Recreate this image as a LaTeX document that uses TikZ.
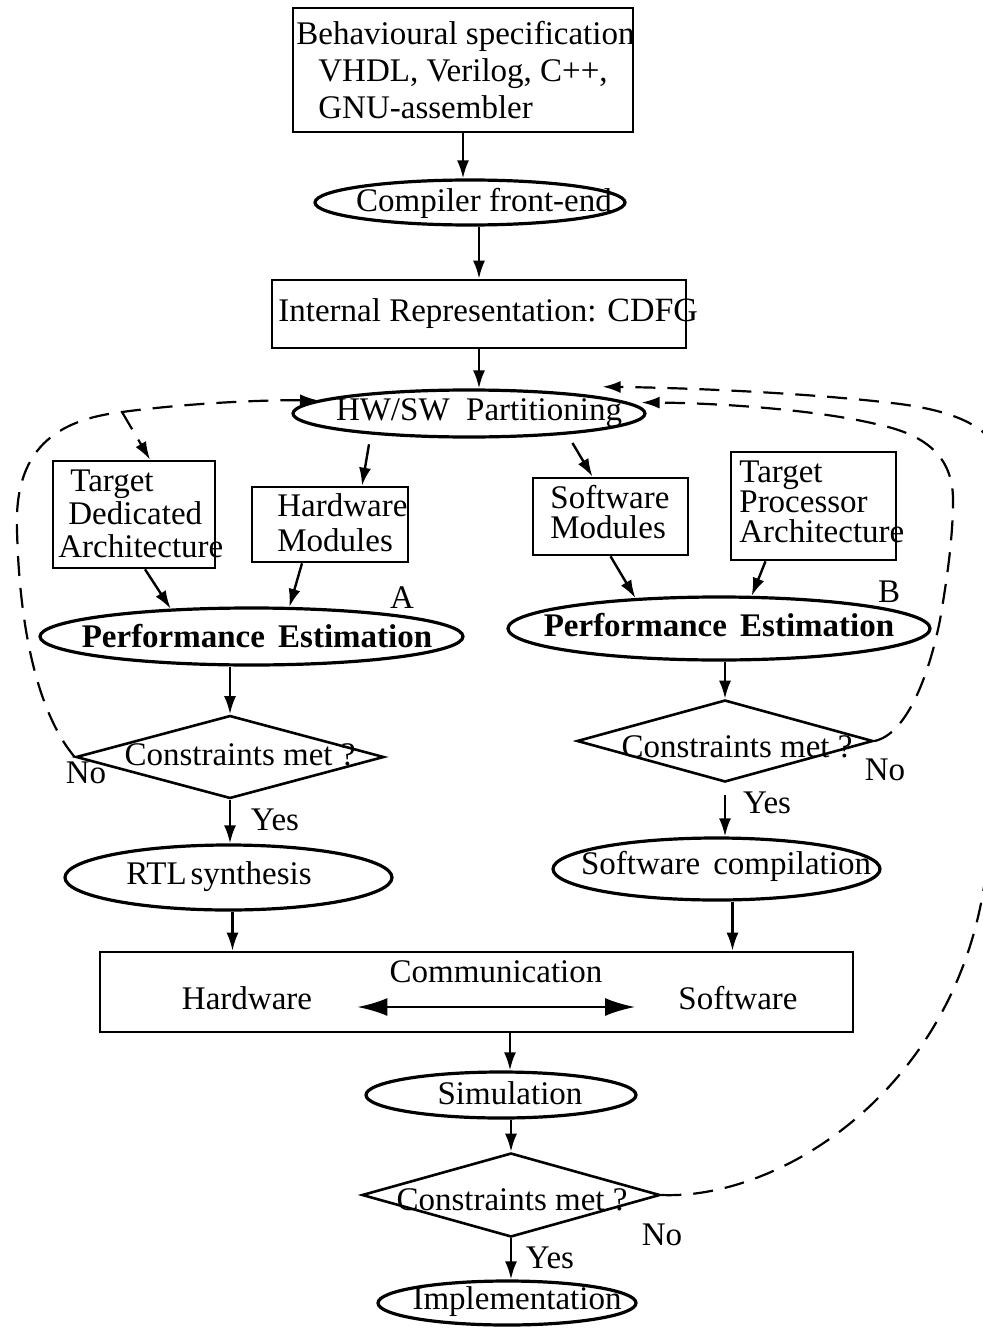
\documentclass[tikz,border=0pt]{standalone}
\usepackage{fontspec}
\setmainfont{Liberation Serif}
\usetikzlibrary{shapes.geometric,arrows.meta,calc}
\begin{document}
\begin{tikzpicture}[x=0.5pt,y=-0.5pt,
  every node/.style={font=\fontsize{16.5}{18}\selectfont},
  box/.style={draw,line width=1.3pt,rectangle,inner sep=0pt},
  oval/.style={draw,line width=1.6pt,ellipse,inner sep=0pt},
  test/.style={draw,line width=1.3pt,diamond,inner sep=0pt},
  txt/.style={inner sep=0pt},
  boldtxt/.style={inner sep=0pt,font=\fontsize{16.5}{18}\selectfont\bfseries},
  flow/.style={line width=1.2pt,-{Latex[length=9pt,width=6pt]}},
  back/.style={line width=1.1pt,dash pattern=on 10pt off 6pt,-{Latex[length=9pt,width=6pt]}},
  bothway/.style={line width=1.2pt,{Latex[length=15pt,width=9pt]}-{Latex[length=15pt,width=9pt]}},
]
\clip (0,0) rectangle (983,1332);

% ---------- front end ----------
\node[box,minimum width=170pt,minimum height=62pt] (spec) at (463,70) {};
\node[txt,anchor=west,align=left,font=\fontsize{16.5}{18.5}\selectfont] (specT) at (296,70)
  {Behavioural specification\\\hspace*{11pt}VHDL, Verilog, C++,\\\hspace*{11pt}GNU-assembler};

\node[oval,minimum width=155pt,minimum height=22.5pt] (cfe) at (470,202.5) {};
\node[txt] (cfeT) at (484,203) {Compiler front-end};

\node[box,minimum width=207pt,minimum height=34pt] (ir) at (479,314) {};
\node[txt,anchor=west] (irT) at (278,314) {Internal Representation: {\fontsize{17}{19}\selectfont CDFG}};

\node[oval,minimum width=176pt,minimum height=23.5pt] (hwsw) at (469,413.5) {};
\node[txt] (hwswT) at (479,413) {HW/SW\hspace{0.5em}Partitioning};

% ---------- hardware / software branches ----------
\node[box,minimum width=81pt,minimum height=53.5pt] (tda) at (134,514.5) {};
\node[txt,anchor=west,align=left,font=\fontsize{16.5}{16.5}\selectfont] (tdaT) at (58,514)
  {\hspace*{6pt}Target\\\hspace*{5pt}Dedicated\\Architecture};

\node[box,minimum width=78pt,minimum height=37.5pt] (hwm) at (330,524.5) {};
\node[txt,anchor=west,align=left,font=\fontsize{16.5}{17.5}\selectfont] (hwmT) at (277,523)
  {Hardware\\Modules};

\node[box,minimum width=77.5pt,minimum height=38.5pt] (swm) at (610.5,516.5) {};
\node[txt,anchor=west,align=left,font=\fontsize{16.5}{15}\selectfont] (swmT) at (550,512)
  {Software\\Modules};

\node[box,minimum width=82.5pt,minimum height=54pt] (tpa) at (813.5,506) {};
\node[txt,anchor=west,align=left,font=\fontsize{16.5}{15}\selectfont] (tpaT) at (739,502)
  {Target\\Processor\\Architecture};

\node[oval,minimum width=211.5pt,minimum height=28.5pt] (pea) at (251.5,636.5) {};
\node[boldtxt] (peaT) at (257,636) {Performance\hspace{0.4em}Estimation};
\node[txt] (labA) at (402,598) {A};

\node[oval,minimum width=211pt,minimum height=31.5pt] (peb) at (719,628.5) {};
\node[boldtxt] (pebT) at (719,625) {Performance\hspace{0.4em}Estimation};
\node[txt] (labB) at (889,592) {B};

\node[test,minimum width=154pt,minimum height=41.5pt] (dl) at (230,757) {};
\node[txt] (dlT) at (240,755) {Constraints met ?};
\node[txt] (noL) at (86,773) {No};
\node[txt] (yesL) at (275,820) {Yes};

\node[test,minimum width=148pt,minimum height=41pt] (dr) at (725,741) {};
\node[txt] (drT) at (737,747) {Constraints met ?};
\node[txt] (noR) at (885,770) {No};
\node[txt] (yesR) at (767,803) {Yes};

\node[oval,minimum width=163.5pt,minimum height=32.5pt] (rtl) at (228.5,877.5) {};
\node[txt] (rtlT) at (219,877) {RTL\hspace{0.12em}synthesis};

\node[oval,minimum width=163.5pt,minimum height=31pt] (swc) at (716.5,869) {};
\node[txt] (swcT) at (726,866) {Software\hspace{0.4em}compilation};

% ---------- integration ----------
\node[box,minimum width=376.5pt,minimum height=40pt] (comm) at (476.5,992) {};
\node[txt] (commT) at (496,972) {Communication};
\node[txt] (hwT) at (247,998) {Hardware};
\node[txt] (swT) at (738,998) {Software};

\node[oval,minimum width=135pt,minimum height=23pt] (sim) at (501,1095) {};
\node[txt] (simT) at (510,1093) {Simulation};

\node[test,minimum width=149pt,minimum height=42pt] (db) at (511,1195) {};
\node[txt] (dbT) at (512,1200) {Constraints met ?};
\node[txt] (noB) at (662,1235) {No};
\node[txt] (yesB) at (550,1258) {Yes};

\node[oval,minimum width=129pt,minimum height=22pt] (impl) at (507,1303) {};
\node[txt] (implT) at (517,1302) {Implementation};

% ---------- solid flow ----------
\draw[flow] (spec.south) -- (spec.south |- cfe.north);
\draw[flow] (ir.north |- cfe.south) -- (ir.north);
\draw[flow] (ir.south) -- (ir.south |- hwsw.north);
\draw[flow,shorten <=5pt] (hwsw.192) -- ($(hwm.north)+(32,0)$);
\draw[flow,shorten <=5pt] (hwsw.-12) -- ($(swm.north)+(-18,0)$);
\draw[flow] ($(tda.south)+(11,0)$) -- (pea.161);
\draw[flow] ($(hwm.south)+(-28,0)$) -- (pea.38);
\draw[flow] (swm.south) -- (peb.160);
\draw[flow] ($(tpa.south)+(-48,0)$) -- (peb.45);
\draw[flow] (dl.north |- pea.south) -- (dl.north);
\draw[flow] (dl.south) -- (dl.south |- rtl.north);
\draw[flow] (dr.north |- peb.south) -- (dr.north);
\draw[flow,shorten <=6pt] (dr.south) -- (dr.south |- swc.north);
\coordinate (rtlOut) at ($(rtl.south)+(4,0)$);
\coordinate (swcOut) at ($(swc.south)+(16,0)$);
\coordinate (commOut) at ($(comm.south)+(33.5,0)$);
\draw[flow] (rtlOut) -- (rtlOut |- comm.north);
\draw[flow] (swcOut) -- (swcOut |- comm.north);
\draw[flow] (commOut) -- (commOut |- sim.north);
\draw[flow] (db.north |- sim.south) -- (db.north);
\draw[flow] (db.south) -- (db.south |- impl.north);
\draw[bothway] ($(hwT.east)+(45,9)$) -- ($(swT.west)+(-43,9)$);

% ---------- dashed feedback loops ----------
\coordinate (fork) at (122,412);
\draw[back] (dl.west) .. controls (45,722) and (20,650) .. (17,530)
  .. controls (14,450) and (55,420) .. (fork)
  .. controls (190,403) and (260,400) .. (hwsw.175);
\draw[back] (fork) -- ($(tda.north)+(16,0)$);

\draw[back] (dr.east) .. controls (905,735) and (928,680) .. (940,620)
  .. controls (946,585) and (953,540) .. (953,500)
  .. controls (953,460) and (930,436) .. (880,425)
  .. controls (820,410) and (720,403) .. ($(hwsw.east)+(-5,-11)$);

\draw[back] (db.east) .. controls (780,1200) and (955,1090) .. (985,880)
  .. controls (1000,780) and (1010,560) .. (1003,470)
  .. controls (1000,430) and (960,412) .. (900,404)
  .. controls (820,394) and (700,388) .. ($(hwsw.north east)+(8,-9)$);
\end{tikzpicture}
\end{document}
